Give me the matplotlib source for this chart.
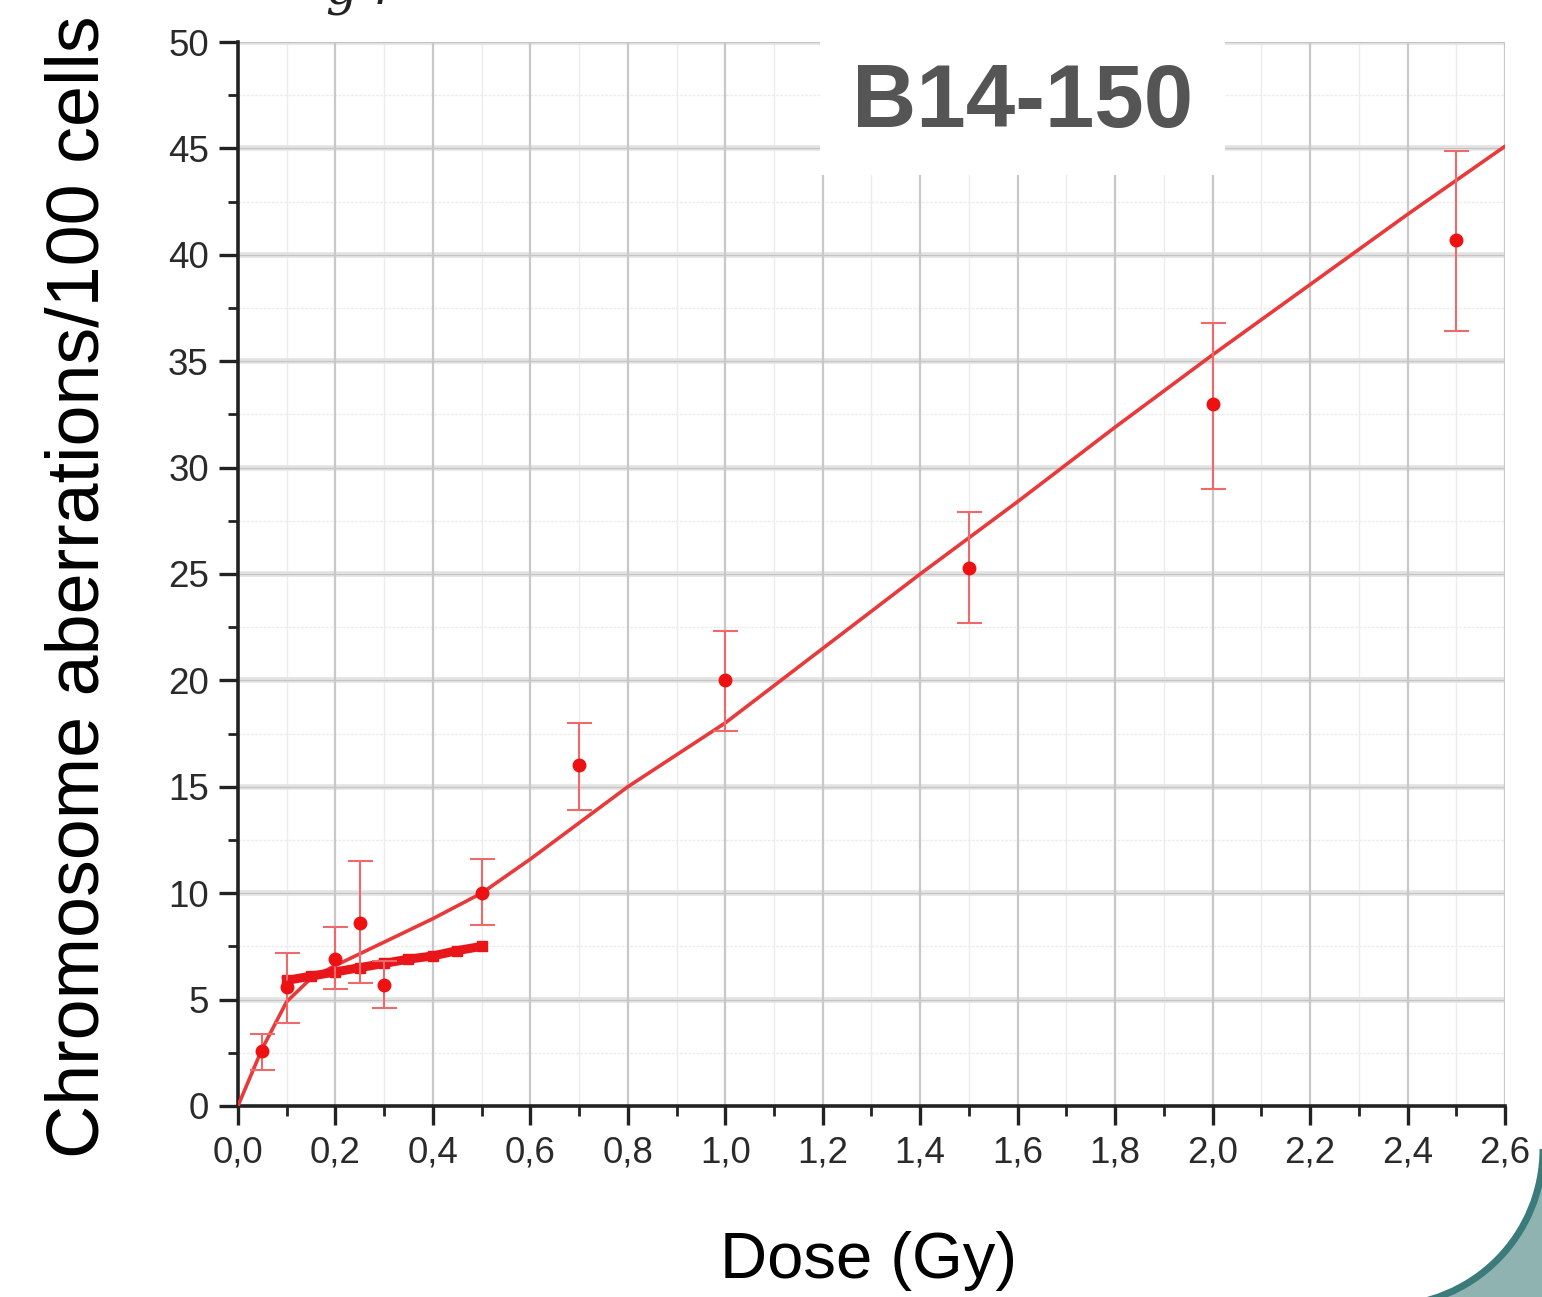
import matplotlib
matplotlib.use("Agg")
import matplotlib.pyplot as plt
from matplotlib.patches import Circle, Rectangle, Arc
from matplotlib.ticker import MultipleLocator, FuncFormatter

plt.rcParams['font.family'] = ['Liberation Sans', 'DejaVu Sans']

# measured data points
dose = [0.05, 0.1, 0.2, 0.25, 0.3, 0.5, 0.7, 1.0, 1.5, 2.0, 2.5]
aberr = [2.6, 5.6, 6.9, 8.6, 5.7, 10.0, 16.0, 20.0, 25.3, 33.0, 40.7]
err_low = [1.7, 3.9, 5.5, 5.8, 4.6, 8.5, 13.9, 17.6, 22.7, 29.0, 36.4]
err_high = [3.4, 7.2, 8.4, 11.5, 6.8, 11.6, 18.0, 22.3, 27.9, 36.8, 44.9]

# fitted curve
fit_x = [0.0, 0.05, 0.1, 0.15, 0.2, 0.3, 0.4, 0.5, 0.6, 0.7, 0.8, 1.0, 1.2, 1.4, 1.6, 1.8, 2.0, 2.2, 2.4, 2.6]
fit_y = [0.0, 2.7, 4.9, 6.0, 6.6, 7.7, 8.8, 10.0, 11.6, 13.3, 15.0, 18.0, 21.5, 25.0, 28.4, 31.9, 35.3, 38.6, 41.9, 45.1]

# low-dose linear fit (thick segment)
low_x = [0.1, 0.15, 0.2, 0.25, 0.3, 0.35, 0.4, 0.45, 0.5]
low_y = [5.9, 6.1, 6.3, 6.5, 6.7, 6.9, 7.05, 7.3, 7.5]

x_ticks = [0.0, 0.2, 0.4, 0.6, 0.8, 1.0, 1.2, 1.4, 1.6, 1.8, 2.0, 2.2, 2.4, 2.6]
y_ticks = [0, 5, 10, 15, 20, 25, 30, 35, 40, 45, 50]

fig = plt.figure(figsize=(15.42, 12.97), dpi=100)

# decorative background (pixel coordinates)
bg = fig.add_axes([0, 0, 1, 1], zorder=-5)
bg.set_xlim(0, 1542)
bg.set_ylim(1297, 0)
bg.axis('off')
bg.add_patch(Rectangle((1386, 1149), 160, 152, facecolor='#8fb3b1', edgecolor='none'))
bg.add_patch(Circle((1386, 1149), 157, facecolor='white', edgecolor='none'))
bg.add_patch(Arc((1386, 1149), 314, 314, theta1=0, theta2=90, color='#3c7b7b', lw=5))

ax = fig.add_axes([0.1543, 0.1473, 0.8217, 0.8203])
ax.set_xlim(0, 2.6)
ax.set_ylim(0, 50)
ax.patch.set_alpha(0)

# grid
ax.set_xticks(x_ticks)
ax.set_yticks(y_ticks)
ax.xaxis.set_minor_locator(MultipleLocator(0.1))
ax.yaxis.set_minor_locator(MultipleLocator(2.5))
for yv in y_ticks[1:]:
    ax.axhline(yv, color='#e2e2e2', lw=4.0, zorder=0.5)
    ax.axhline(yv, color='#c4c4c4', lw=0.8, zorder=0.6)
for xv in x_ticks[1:]:
    ax.axvline(xv, color='#c8c8c8', lw=1.6, zorder=0.6)
for k in range(1, 26, 2):
    ax.axvline(k * 0.1, color='#ececec', lw=1.0, zorder=0.4)
for k in range(1, 20, 2):
    ax.axhline(k * 2.5, color='#ececec', lw=1.0, ls=(0, (2, 1)), zorder=0.4)

# title box covering grid
ax.add_patch(Rectangle((1.194, 43.75), 0.831, 7.0, facecolor='white', edgecolor='none',
                       zorder=0.9, clip_on=False))
ax.text(1.611, 47.1, 'B14-150', fontsize=64, fontweight='bold', color='#555555',
        ha='center', va='center', zorder=1)

# curves and data
ax.plot(fit_x, fit_y, color='#e83a3a', lw=2.6, zorder=3, solid_capstyle='round')
ax.plot(low_x, low_y, color='#e8161b', lw=6.5, marker='s', ms=7, zorder=3.5)
yerr = [[a - l for a, l in zip(aberr, err_low)], [h - a for a, h in zip(aberr, err_high)]]
ax.errorbar(dose, aberr, yerr=yerr, fmt='o', color='#ee1111', ms=9, ecolor='#ee6a6a',
            elinewidth=1.5, capsize=9, capthick=1.5, zorder=4)

# spines and ticks
for s in ['top', 'right']:
    ax.spines[s].set_visible(False)
for s in ['left', 'bottom']:
    ax.spines[s].set_linewidth(2.6)
    ax.spines[s].set_color('#222222')
ax.tick_params(which='major', direction='out', length=14, width=2.4, color='#222222',
               labelsize=26.5, labelcolor='#2a2a2a', pad=7)
ax.tick_params(which='minor', direction='out', length=7, width=2.0, color='#222222')
ax.xaxis.set_major_formatter(FuncFormatter(lambda v, p: f"{v:.1f}".replace('.', ',')))
ax.yaxis.set_major_formatter(FuncFormatter(lambda v, p: f"{int(round(v))}"))

ax.set_ylabel('Chromosome aberrations/100 cells', fontsize=53, color='black')
ax.yaxis.set_label_coords(-0.098, 0.488)
ax.set_xlabel('Dose (Gy)', fontsize=47, color='black')
ax.xaxis.set_label_coords(0.498, -0.118)

# partial text at top edge (cut off in the original too)
fig.text(0.235, 0.9875, 'g r', fontsize=36, family='DejaVu Serif', style='italic',
         color='#222222', ha='center', va='bottom')

fig.savefig('out.png', dpi=100, facecolor='white')
